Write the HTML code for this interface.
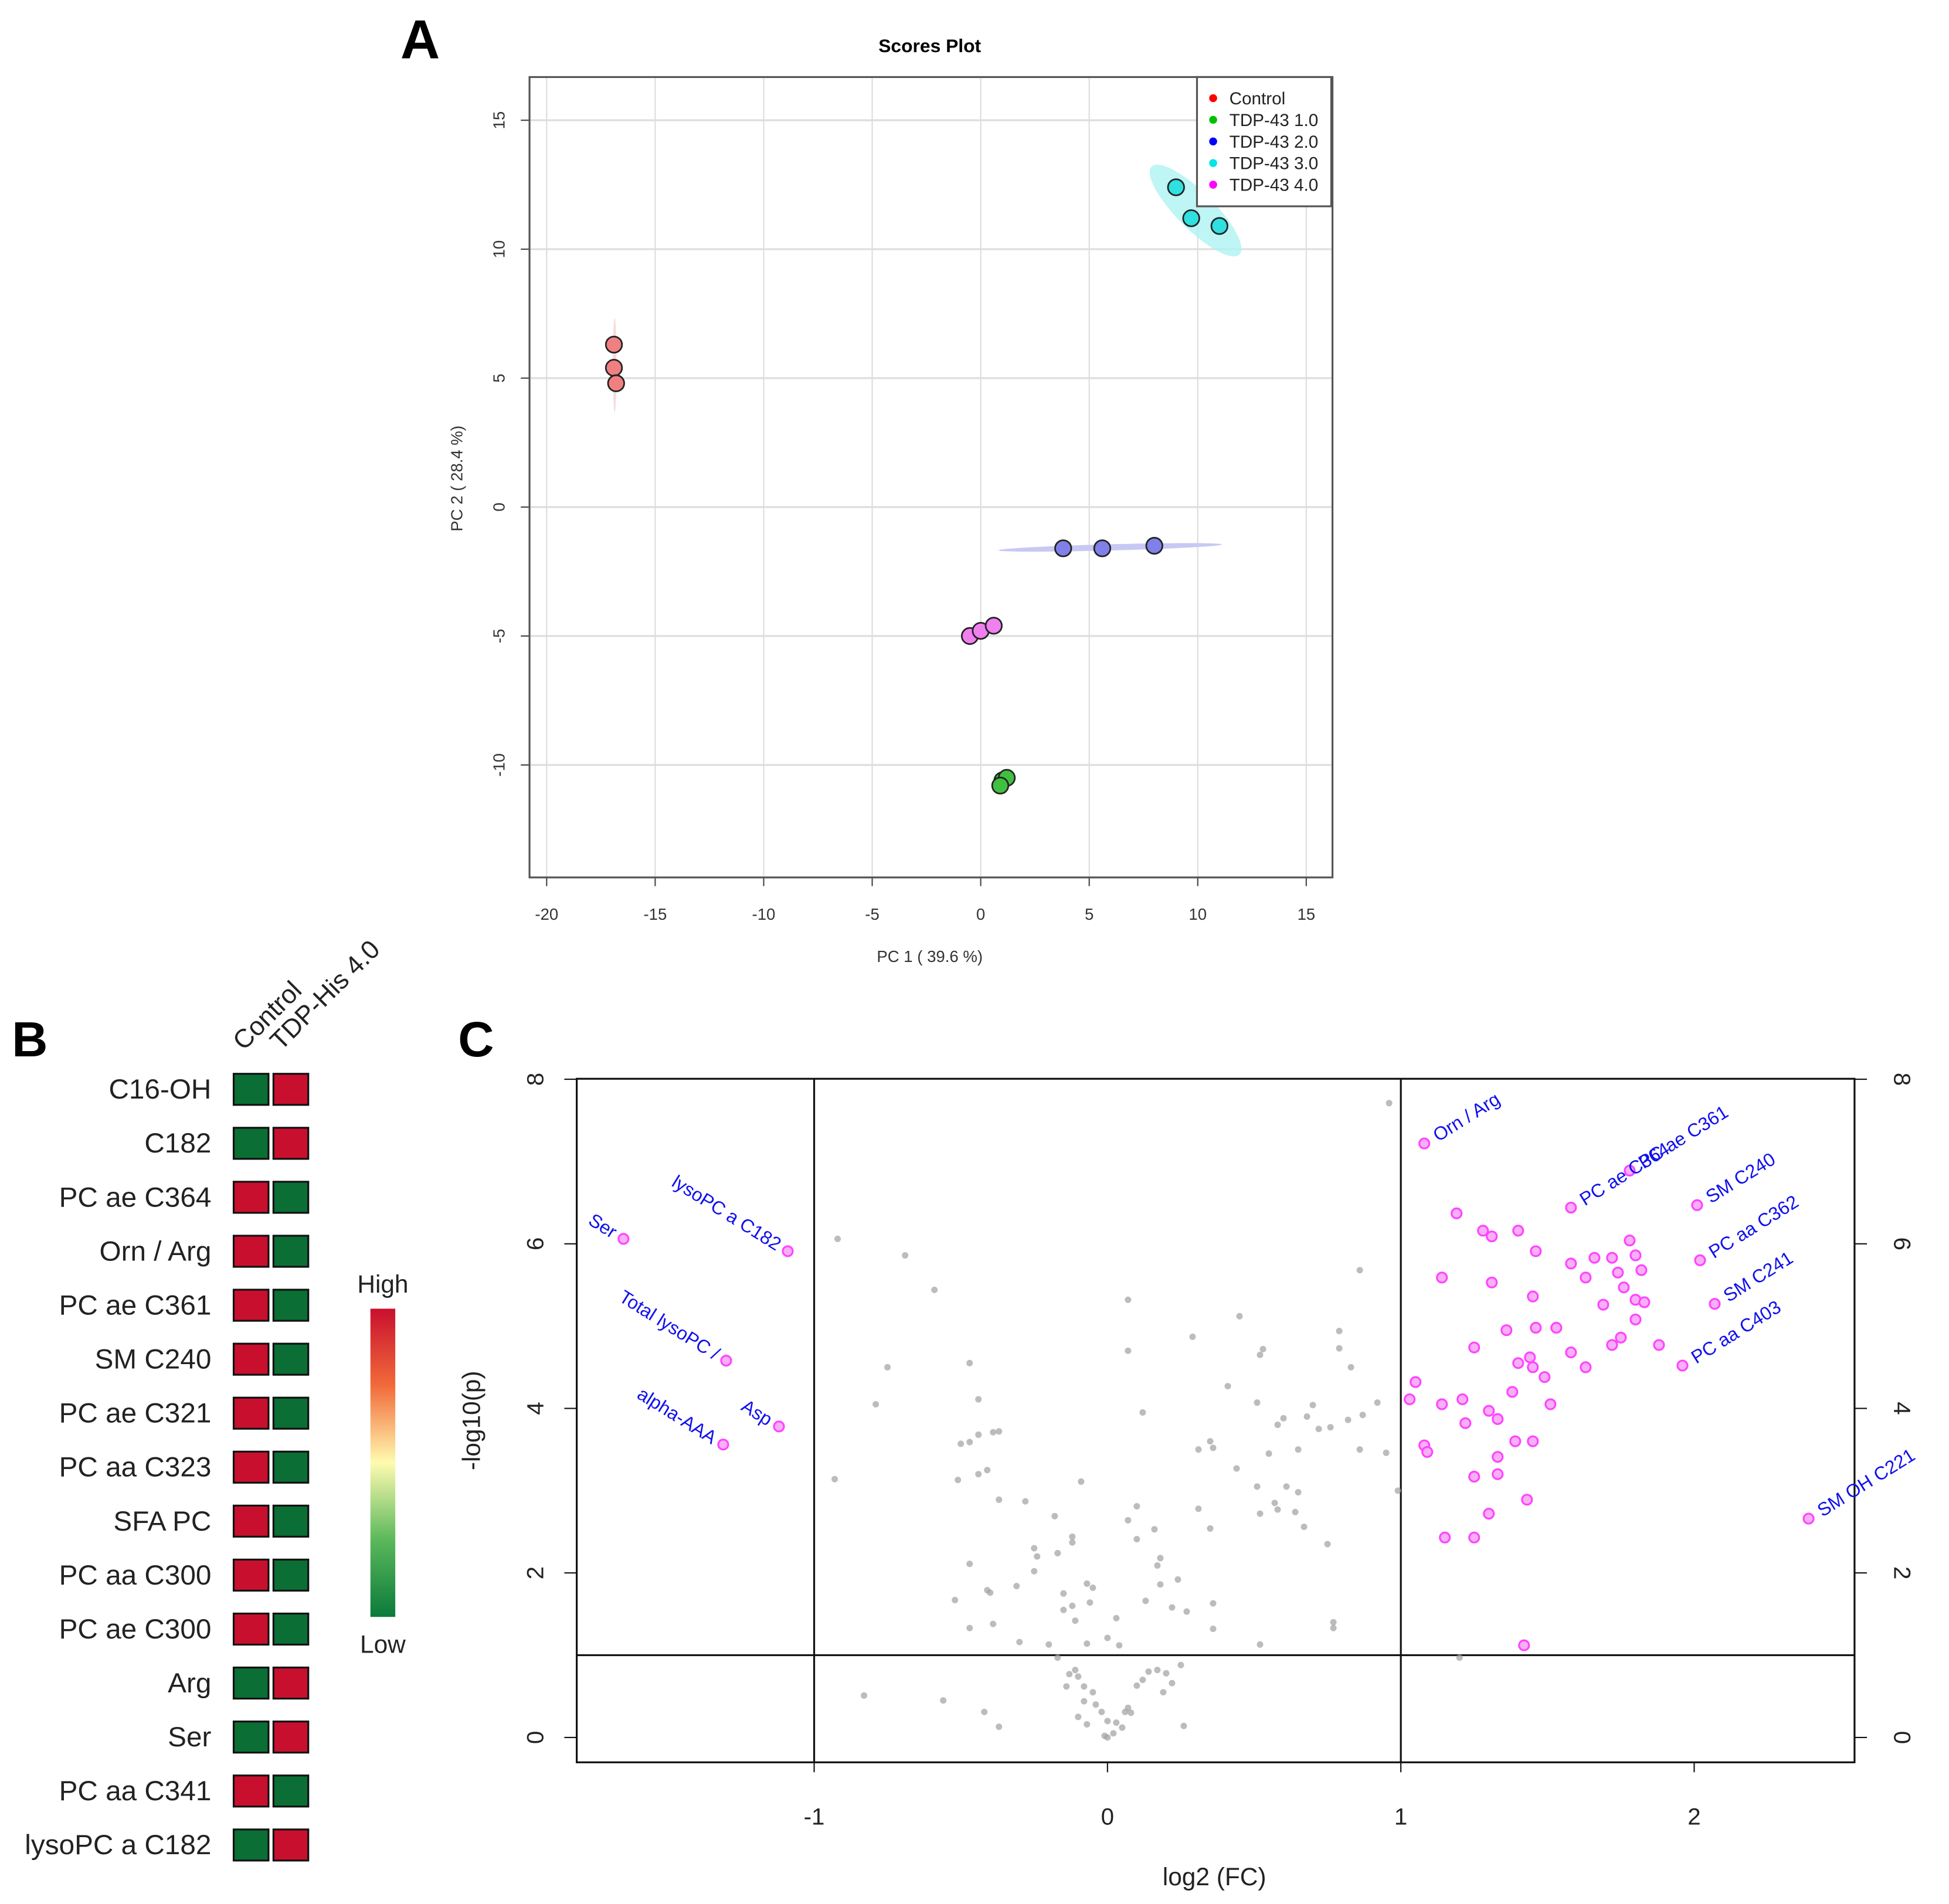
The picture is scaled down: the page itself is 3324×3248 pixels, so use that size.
<!DOCTYPE html>
<html><head><meta charset="utf-8"><style>
html,body{margin:0;padding:0;background:#fff;}
svg{display:block;font-family:"Liberation Sans",sans-serif;}
</style></head><body>
<svg id="fig" width="3324" height="3248" viewBox="0 0 1568 1532" preserveAspectRatio="none" xmlns="http://www.w3.org/2000/svg">
<rect x="0" y="0" width="1568" height="1532" fill="#fff"/>
<g id="pA"></g>
<g id="pB"></g>
<g id="pC"></g>
</svg>
<script>
// ---------- Panel A data ----------
const groupNames = ["Control","TDP-43 1.0","TDP-43 2.0","TDP-43 3.0","TDP-43 4.0"];
const groupColors = ["#ff0000","#00c000","#0000ff","#00e5e5","#ff00ff"];
const groupFill = ["#f08080","#40c040","#8080e8","#30e0e0","#f080f0"];
const pc1Values = [[-16.9,-16.9,-16.8],[1.0,1.2,0.9],[3.8,5.6,8.0],[9.0,9.7,11.0],[-0.5,0.0,0.6]];
const pc2Values = [[6.3,5.4,4.8],[-10.6,-10.5,-10.8],[-1.6,-1.6,-1.5],[12.4,11.2,10.9],[-5.0,-4.8,-4.6]];
const pc1Ticks = [-20,-15,-10,-5,0,5,10,15];
const pc2Ticks = [-10,-5,0,5,10,15];

// ---------- Panel B data ----------
const heatRows = ["C16-OH","C182","PC ae C364","Orn / Arg","PC ae C361","SM C240","PC ae C321","PC aa C323","SFA PC","PC aa C300","PC ae C300","Arg","Ser","PC aa C341","lysoPC a C182"];
const heatControl = [0,0,1,1,1,1,1,1,1,1,1,0,0,1,0];
const heatTDP = [1,1,0,0,0,0,0,0,0,0,0,1,1,0,1];
const heatCols = ["Control","TDP-His 4.0"];

// ---------- Panel C data ----------
const sigFC = [1.08,1.78,1.58,2.01,2.02,2.07,1.96,2.39,-1.09,-1.65,-1.30,-1.12,-1.31,1.19,1.28,1.31,1.40,1.46,1.14,1.31,1.58,1.66,1.72,1.78,1.80,1.63,1.74,1.82,1.76,1.69,1.80,1.83,1.45,1.36,1.46,1.53,1.25,1.58,1.63,1.75,1.72,1.80,1.88,1.40,1.44,1.45,1.49,1.05,1.03,1.14,1.21,1.38,1.30,1.51,1.22,1.33,1.08,1.09,1.39,1.45,1.33,1.25,1.33,1.43,1.30,1.15,1.25,1.42];
const sigP = [7.22,6.89,6.44,6.47,5.80,5.27,4.52,2.66,5.91,6.06,4.58,3.78,3.56,6.37,6.16,6.09,6.16,5.91,5.59,5.53,5.76,5.83,5.83,6.04,5.86,5.59,5.65,5.68,5.47,5.26,5.32,5.29,5.36,4.95,4.98,4.98,4.74,4.68,4.50,4.86,4.77,5.08,4.77,4.55,4.62,4.50,4.38,4.32,4.11,4.05,4.11,4.20,3.97,4.05,3.82,3.87,3.55,3.47,3.60,3.60,3.41,3.17,3.20,2.89,2.72,2.43,2.43,1.12];
const sigLabels = ["Orn / Arg","PC ae C361","PC ae C364","SM C240","PC aa C362","SM C241","PC aa C403","SM OH C221","lysoPC a C182","Ser","Total lysoPC /","Asp","alpha-AAA"];
const grayFC = [-0.92,-0.69,-0.59,-0.75,-0.79,-0.47,-0.44,-0.50,-0.47,-0.44,-0.37,-0.39,-0.51,-0.44,-0.41,-0.37,-0.28,-0.09,-0.18,-0.25,-0.24,-0.17,-0.12,-0.12,-0.25,-0.31,-0.41,-0.40,-0.52,-0.15,-0.15,-0.12,-0.07,-0.05,-0.06,-0.47,-0.39,-0.30,-0.20,-0.07,0.0,0.04,-0.11,0.03,0.07,0.10,0.10,0.16,0.18,0.17,0.13,0.22,0.27,0.36,0.36,0.24,0.31,0.35,0.31,0.35,0.36,0.44,0.51,0.52,0.57,0.58,0.55,0.61,0.65,0.64,0.67,0.75,0.41,0.51,0.58,0.60,0.68,0.65,0.70,0.72,0.76,0.82,0.87,0.86,0.95,0.92,0.83,0.79,0.79,0.86,0.96,0.52,0.53,0.45,0.07,0.07,0.29,0.12,-0.47,-0.93,0.77,0.77,0.52,0.18,-0.83,-0.56,-0.42,-0.37,-0.17,-0.14,-0.13,-0.11,-0.10,-0.08,-0.05,-0.08,-0.04,-0.02,0.0,-0.01,0.0,0.03,0.05,0.06,0.08,0.07,0.10,0.12,0.14,0.17,0.20,0.22,0.19,0.25,0.26,0.02,-0.10,-0.07,1.20,0.99];
const grayP = [6.06,5.86,5.44,4.50,4.05,4.55,4.11,3.57,3.59,3.68,3.72,3.71,3.13,3.20,3.25,2.89,2.87,3.11,2.69,2.30,2.20,2.24,2.37,2.44,2.02,1.84,1.79,1.76,1.67,1.75,1.55,1.60,1.87,1.82,1.64,1.33,1.38,1.16,1.13,1.14,1.21,1.12,1.42,1.45,2.64,2.81,2.41,2.53,2.18,2.09,1.66,1.58,1.53,1.32,1.63,1.92,2.78,2.54,3.50,3.60,3.52,3.27,3.05,2.72,2.85,2.77,3.45,3.05,2.98,2.74,2.56,2.35,4.27,4.07,3.80,3.88,3.90,3.50,4.04,3.75,3.77,3.86,3.92,3.50,3.46,4.07,4.50,4.73,4.94,5.68,7.71,4.65,4.72,5.12,5.32,4.70,4.87,3.95,2.11,3.14,1.40,1.33,1.13,1.86,0.51,0.45,0.31,0.13,0.97,0.62,0.77,0.82,0.74,0.62,0.55,0.44,0.40,0.31,0.20,0.02,0.0,0.18,0.12,0.31,0.30,0.36,0.63,0.70,0.80,0.82,0.78,0.66,0.55,0.88,0.14,0.05,0.25,0.16,0.97,3.00];
const fcTicks = [-1,0,1,2];
const pTicks = [0,2,4,6,8];

const NS="http://www.w3.org/2000/svg";
function mk(tag, parent, attrs){const e=document.createElementNS(NS,tag);for(const k in attrs)e.setAttribute(k,attrs[k]);parent.appendChild(e);return e;}

// ================= Panel A =================
const A=document.getElementById('pA');
const ax=v=>789+v*17.46, ay=v=>408-v*20.75;
let t;
t=mk('text',A,{x:338,y:47,'font-size':44,'font-weight':'bold','text-anchor':'middle'});t.textContent='A';


t=mk('text',A,{x:748,y:42,'font-size':15,'font-weight':'bold','text-anchor':'middle'});t.textContent='Scores Plot';


pc1Ticks.forEach(v=>{
  const g=mk('line',A,{x1:ax(v),x2:ax(v),y1:62,y2:706,stroke:'#ddd','stroke-width':1});
  
  
  const tk=mk('line',A,{x1:ax(v),x2:ax(v),y1:706,y2:713,stroke:'#444'});
  
  
  const l=mk('text',A,{x:ax(v),y:740,'font-size':13,'text-anchor':'middle',fill:'#333'});l.textContent=v;
  
  
});
pc2Ticks.forEach(v=>{
  const g=mk('line',A,{x1:426,x2:1072,y1:ay(v),y2:ay(v),stroke:'#ddd','stroke-width':1.5});
  
  
  const tk=mk('line',A,{x1:419,x2:426,y1:ay(v),y2:ay(v),stroke:'#444'});
  
  
  const l=mk('text',A,{x:406,y:ay(v),'font-size':13,'text-anchor':'middle',fill:'#333',transform:`rotate(-90 406 ${ay(v)})`});l.textContent=v;
  
  
});
let r=mk('rect',A,{x:426,y:62,width:646,height:644,fill:'none',stroke:'#555','stroke-width':1.5});


t=mk('text',A,{x:748,y:774,'font-size':13,'text-anchor':'middle',fill:'#333'});t.textContent='PC 1 ( 39.6 %)';


t=mk('text',A,{x:372,y:385,'font-size':13,'text-anchor':'middle',fill:'#333',transform:'rotate(-90 372 385)'});t.textContent='PC 2 ( 28.4 %)';


function mean(a){return a.reduce((s,v)=>s+v,0)/a.length;}
let e=mk('ellipse',A,{cx:ax(mean(pc1Values[3])),cy:ay(mean(pc2Values[3])),rx:50,ry:15,fill:'#aef3f3',opacity:0.8,transform:`rotate(45 ${ax(mean(pc1Values[3]))} ${ay(mean(pc2Values[3]))})`});


e=mk('ellipse',A,{cx:ax(mean(pc1Values[2]))+3,cy:ay(mean(pc2Values[2])),rx:90,ry:2.5,fill:'#c8c8f4',transform:`rotate(-1.5 ${ax(mean(pc1Values[2]))} ${ay(mean(pc2Values[2]))})`});


e=mk('ellipse',A,{cx:ax(mean(pc1Values[0])),cy:ay(mean(pc2Values[0])),rx:1.5,ry:38,fill:'#f8dcdc'});


pc1Values.forEach((xs,gi)=>xs.forEach((x,i)=>{
  const c=mk('circle',A,{cx:ax(x),cy:ay(pc2Values[gi][i]),r:6.5,fill:groupFill[gi],stroke:'#222','stroke-width':1.3});
  
  
}));
r=mk('rect',A,{x:963,y:62,width:108,height:104,fill:'#fff',stroke:'#555','stroke-width':1.5});


groupNames.forEach((n,i)=>{
  const y=79+i*17.4;
  const c=mk('circle',A,{cx:976,cy:y,r:3.2,fill:groupColors[i]});
  
  
  const l=mk('text',A,{x:989,y:y+5,'font-size':14,fill:'#222'});l.textContent=n;
  
  
});

// ================= Panel B =================
const B=document.getElementById('pB');
t=mk('text',B,{x:24,y:850,'font-size':40,'font-weight':'bold','text-anchor':'middle'});t.textContent='B';


heatCols.forEach((c,i)=>{
  const x=196+i*30, y=846;
  const l=mk('text',B,{x:x,y:y,'font-size':21,fill:'#222',transform:`rotate(-45 ${x} ${y})`});l.textContent=c;
  
  
});
heatRows.forEach((n,i)=>{
  const yc=876+i*43.43;
  const l=mk('text',B,{x:170,y:yc+8,'font-size':22.5,'text-anchor':'end',fill:'#222'});l.textContent=n;
  
  
  [heatControl[i],heatTDP[i]].forEach((v,j)=>{
    const c=mk('rect',B,{x:188+j*32,y:yc-12,width:28,height:25,fill:v?'#c8102e':'#0b6e35',stroke:'#111','stroke-width':1.5});
    
    
  });
});
const defs=mk('defs',B,{});
const lg=mk('linearGradient',defs,{id:'cbar',x1:0,y1:0,x2:0,y2:1});
[['0','#c8102e'],['0.25','#f26a3a'],['0.5','#fffbb0'],['0.75','#5bb85b'],['1','#0b7a3a']].forEach(s=>mk('stop',lg,{offset:s[0],'stop-color':s[1]}));
r=mk('rect',B,{x:298,y:1053,width:20,height:248,fill:'url(#cbar)'});


t=mk('text',B,{x:308,y:1040,'font-size':20,'text-anchor':'middle',fill:'#222'});t.textContent='High';


t=mk('text',B,{x:308,y:1330,'font-size':20,'text-anchor':'middle',fill:'#222'});t.textContent='Low';



// ================= Panel C =================
const C=document.getElementById('pC');
const cx=v=>891+v*236, cy=v=>1398-v*66.2;
t=mk('text',C,{x:383,y:850,'font-size':40,'font-weight':'bold','text-anchor':'middle'});t.textContent='C';


r=mk('rect',C,{x:464,y:868,width:1028,height:550,fill:'none',stroke:'#111','stroke-width':1.5});


[-1,1].forEach(v=>{
  const l=mk('line',C,{x1:cx(v),x2:cx(v),y1:868,y2:1418,stroke:'#111','stroke-width':1.5});
  
  
});
let hl=mk('line',C,{x1:464,x2:1492,y1:cy(1),y2:cy(1),stroke:'#111','stroke-width':1.5});


fcTicks.forEach(v=>{
  const tk=mk('line',C,{x1:cx(v),x2:cx(v),y1:1418,y2:1426,stroke:'#111'});
  
  
  const l=mk('text',C,{x:cx(v),y:1468,'font-size':19,'text-anchor':'middle',fill:'#222'});l.textContent=v;
  
  
});
pTicks.forEach(v=>{
  const tk=mk('line',C,{x1:454,x2:464,y1:cy(v),y2:cy(v),stroke:'#111'});
  
  
  const tk2=mk('line',C,{x1:1492,x2:1502,y1:cy(v),y2:cy(v),stroke:'#111'});
  
  
  const l=mk('text',C,{x:437,y:cy(v),'font-size':19,'text-anchor':'middle',fill:'#222',transform:`rotate(-90 437 ${cy(v)})`});l.textContent=v;
  
  
  const l2=mk('text',C,{x:1524,y:cy(v),'font-size':19,'text-anchor':'middle',fill:'#222',transform:`rotate(90 1524 ${cy(v)})`});l2.textContent=v;
  
  
});
t=mk('text',C,{x:977,y:1517,'font-size':20,'text-anchor':'middle',fill:'#222'});t.textContent='log2 (FC)';


t=mk('text',C,{x:386,y:1143,'font-size':20,'text-anchor':'middle',fill:'#222',transform:'rotate(-90 386 1143)'});t.textContent='-log10(p)';


grayFC.forEach((v,i)=>{
  const c=mk('circle',C,{cx:cx(v),cy:cy(grayP[i]),r:2.6,fill:'#a0a0a0',opacity:0.7});
  
  
});
sigFC.forEach((v,i)=>{
  const c=mk('circle',C,{cx:cx(v),cy:cy(sigP[i]),r:4,fill:'#f7b0f7',stroke:'#ff44ff','stroke-width':1.5});
  
  
});
sigLabels.forEach((n,i)=>{
  const x=cx(sigFC[i]), y=cy(sigP[i]);
  let l;
  if(sigFC[i]>0){
    l=mk('text',C,{x:x+10,y:y+5,'font-size':15,fill:'#1010ee',transform:`rotate(-32 ${x} ${y})`});
  } else {
    l=mk('text',C,{x:x-8,y:y+5,'font-size':15,fill:'#1010ee','text-anchor':'end',transform:`rotate(32 ${x} ${y})`});
  }
  l.textContent=n;
  
  
});
</script>
</body></html>
